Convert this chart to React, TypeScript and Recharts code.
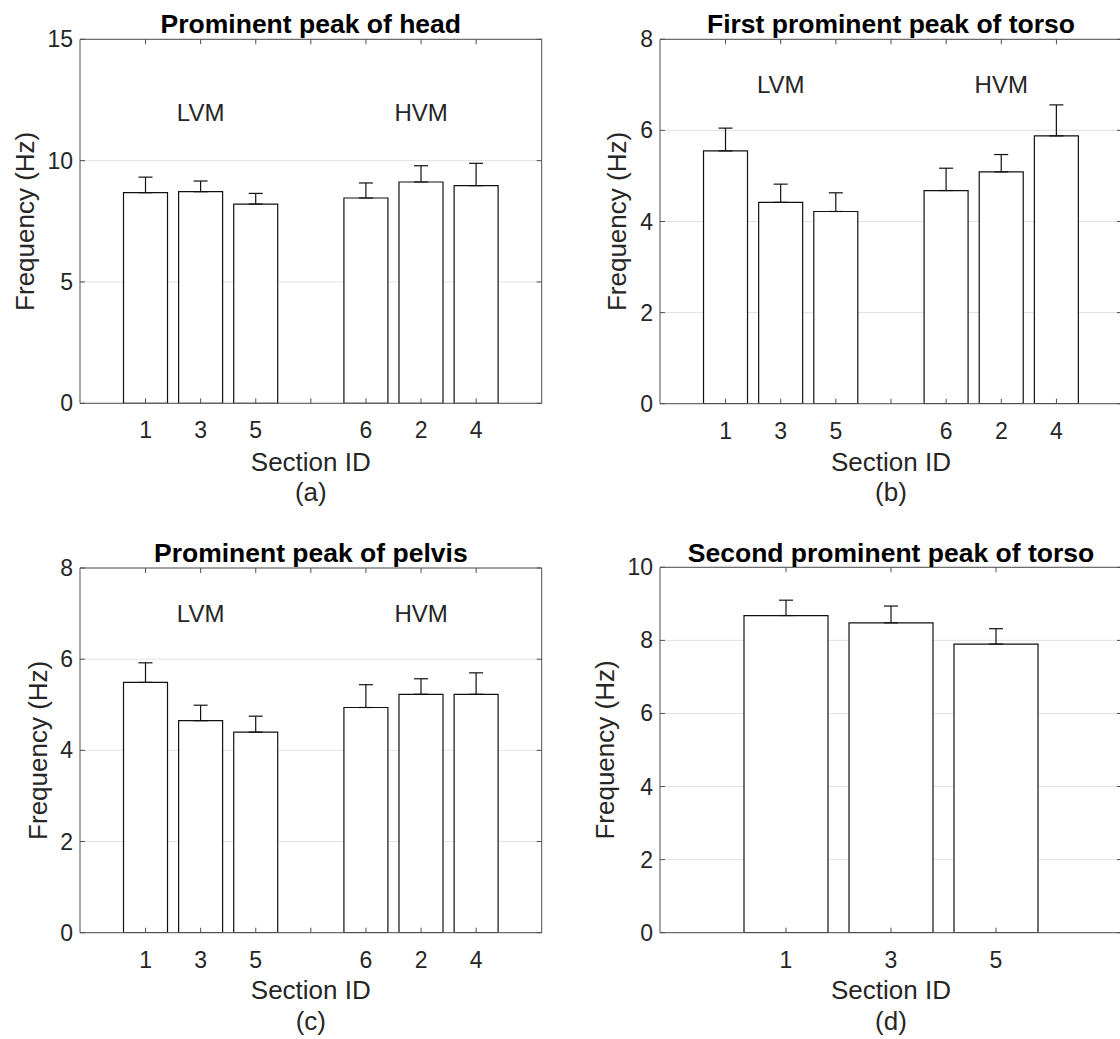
import React from "react";
import { BarChart, Bar, XAxis, YAxis, CartesianGrid, ErrorBar, ReferenceDot } from "recharts";

// ---- data ----
const groupedSections = ["1", "3", "5", "", "6", "2", "4"];
const lvmOnlySections = ["1", "3", "5"];

const headMean = [8.68, 8.72, 8.21, null, 8.46, 9.12, 8.97];
const headErr = [0.64, 0.44, 0.44, null, 0.62, 0.67, 0.92];

const torso1Mean = [5.55, 4.42, 4.22, null, 4.68, 5.09, 5.88];
const torso1Err = [0.5, 0.4, 0.41, null, 0.49, 0.38, 0.68];

const pelvisMean = [5.49, 4.65, 4.4, null, 4.94, 5.23, 5.23];
const pelvisErr = [0.43, 0.34, 0.35, null, 0.5, 0.34, 0.47];

const torso2Mean = [8.68, 8.48, 7.9];
const torso2Err = [0.42, 0.46, 0.42];

const headTicks = [0, 5, 10, 15];
const torso1Ticks = [0, 2, 4, 6, 8];
const pelvisTicks = [0, 2, 4, 6, 8];
const torso2Ticks = [0, 2, 4, 6, 8, 10];

const groupLabels = ["LVM", "HVM"];
const groupCenters = ["3", "2"];

const titles = [
  "Prominent peak of head",
  "First prominent peak of torso",
  "Prominent peak of pelvis",
  "Second prominent peak of torso",
];
const captions = ["(a)", "(b)", "(c)", "(d)"];
const xLabel = "Section ID";
const yLabel = "Frequency (Hz)";

// ---- style ----
const FONT = "'Liberation Sans', Arial, Helvetica, sans-serif";
const TEXT = "#262626";
const AXIS = "#505050";
const GRID = "#e2e2e2";
const TICK_LEN = 5;
const TICK_FS = 23;
const ANN_FS = 24;
const LABEL_FS = 26;
const TITLE_FS = 26.5;

type Row = { section: string; freq: number | null; err: number[] | null };

function build(sections: string[], mean: (number | null)[], err: (number | null)[]): Row[] {
  return sections.map((s, i) => ({
    section: s,
    freq: mean[i],
    err: err[i] == null ? null : [0, err[i] as number],
  }));
}

const BottomTick = (p: any) => (
  <g>
    <line x1={p.x} x2={p.x} y1={p.y} y2={p.y - TICK_LEN} stroke={AXIS} strokeWidth={1} />
    {p.payload.value !== "" && (
      <text x={p.x} y={p.y + 27} textAnchor="middle" dominantBaseline="central" fontSize={TICK_FS} fontFamily={FONT} fill={TEXT}>
        {p.payload.value}
      </text>
    )}
  </g>
);
const TopTick = (p: any) => (
  <line x1={p.x} x2={p.x} y1={p.y} y2={p.y + TICK_LEN} stroke={AXIS} strokeWidth={1} />
);
const LeftTick = (p: any) => (
  <g>
    <line x1={p.x} x2={p.x + TICK_LEN} y1={p.y} y2={p.y} stroke={AXIS} strokeWidth={1} />
    <text x={p.x - 7} y={p.y} textAnchor="end" dominantBaseline="central" fontSize={TICK_FS} fontFamily={FONT} fill={TEXT}>
      {p.payload.value}
    </text>
  </g>
);
const RightTick = (p: any) => (
  <line x1={p.x} x2={p.x - TICK_LEN} y1={p.y} y2={p.y} stroke={AXIS} strokeWidth={1} />
);

type PanelProps = {
  left: number;
  top: number;
  width: number;
  height: number;
  plot: { top: number; right: number; bottom: number; left: number };
  data: Row[];
  domain: [number, number];
  ticks: number[];
  pad: number;
  annY?: number;
};

function Panel({ left, top, width, height, plot, data, domain, ticks, pad, annY }: PanelProps) {
  // axes take 1px each; margins are reduced so the plot box stays where intended
  const margin = { top: plot.top - 1, right: plot.right - 1, bottom: plot.bottom - 1, left: plot.left - 1 };
  return (
    <div style={{ position: "absolute", left, top, width, height }}>
      <BarChart width={width} height={height} data={data} margin={margin} barCategoryGap="10%">
        <CartesianGrid xAxisId="bottom" yAxisId="left" horizontal vertical={false} stroke={GRID} />
        <XAxis
          xAxisId="bottom"
          dataKey="section"
          orientation="bottom"
          height={1}
          padding={{ left: pad, right: pad }}
          tickSize={0}
          tickMargin={0}
          tickLine={false}
          axisLine={{ stroke: AXIS }}
          interval={0}
          tick={BottomTick}
        />
        <XAxis
          xAxisId="top"
          dataKey="section"
          orientation="top"
          height={1}
          padding={{ left: pad, right: pad }}
          tickSize={0}
          tickMargin={0}
          tickLine={false}
          axisLine={{ stroke: AXIS }}
          interval={0}
          tick={TopTick}
        />
        <YAxis
          yAxisId="left"
          type="number"
          domain={domain}
          ticks={ticks}
          allowDataOverflow
          width={1}
          tickSize={0}
          tickMargin={0}
          tickLine={false}
          axisLine={{ stroke: AXIS }}
          interval={0}
          tick={LeftTick}
        />
        <YAxis
          yAxisId="right"
          orientation="right"
          type="number"
          domain={domain}
          ticks={ticks}
          allowDataOverflow
          width={1}
          tickSize={0}
          tickMargin={0}
          tickLine={false}
          axisLine={{ stroke: AXIS }}
          interval={0}
          tick={RightTick}
        />
        <Bar
          xAxisId="bottom"
          yAxisId="left"
          dataKey="freq"
          fill="#ffffff"
          stroke="#111111"
          strokeWidth={1.2}
          isAnimationActive={false}
        >
          <ErrorBar dataKey="err" direction="y" width={7} stroke="#111111" strokeWidth={1.2} />
        </Bar>
        {annY !== undefined &&
          groupLabels.map((g, i) => (
            <ReferenceDot
              key={g}
              xAxisId="bottom"
              yAxisId="left"
              x={groupCenters[i]}
              y={annY}
              r={1}
              fill="none"
              stroke="none"
              label={{ value: g, position: "center", fontSize: ANN_FS, fill: TEXT, fontFamily: FONT }}
            />
          ))}
      </BarChart>
    </div>
  );
}

export default function App() {
  const headData = build(groupedSections, headMean, headErr);
  const torso1Data = build(groupedSections, torso1Mean, torso1Err);
  const pelvisData = build(groupedSections, pelvisMean, pelvisErr);
  const torso2Data = build(lvmOnlySections, torso2Mean, torso2Err);

  const txt = (x: number, y: number, s: string, extra: any = {}) => (
    <text x={x} y={y} textAnchor="middle" dominantBaseline="central" fontFamily={FONT} fill={TEXT} fontSize={LABEL_FS} {...extra}>
      {s}
    </text>
  );
  const titleStyle = { fontWeight: "bold", fill: "#000", fontSize: TITLE_FS };

  const cx = [310.8, 891];

  return (
    <div style={{ position: "absolute", left: 0, top: 0, width: 1120, height: 1039, overflow: "hidden", background: "#fff" }}>
      <Panel left={0} top={0} width={560} height={520} plot={{ top: 39.3, right: 18.3, bottom: 116.7, left: 80 }} data={headData} domain={[0, 15]} ticks={headTicks} pad={38} annY={12} />
      <Panel left={560} top={0} width={564} height={520} plot={{ top: 39.3, right: 2, bottom: 116.3, left: 100 }} data={torso1Data} domain={[0, 8]} ticks={torso1Ticks} pad={38} annY={7} />
      <Panel left={0} top={520} width={560} height={520} plot={{ top: 48, right: 18.3, bottom: 107.3, left: 80 }} data={pelvisData} domain={[0, 8]} ticks={pelvisTicks} pad={38} annY={7} />
      <Panel left={560} top={520} width={564} height={520} plot={{ top: 47.3, right: 2, bottom: 107.3, left: 100 }} data={torso2Data} domain={[0, 10]} ticks={torso2Ticks} pad={73.5} />
      <svg width={1120} height={1039} style={{ position: "absolute", left: 0, top: 0, pointerEvents: "none" }}>
        {txt(cx[0], 23.5, titles[0], titleStyle)}
        {txt(cx[1], 23.5, titles[1], titleStyle)}
        {txt(cx[0], 553.3, titles[2], titleStyle)}
        {txt(cx[1], 553.3, titles[3], titleStyle)}
        {txt(cx[0], 461.7, xLabel)}
        {txt(cx[1], 462, xLabel)}
        {txt(cx[0], 990, xLabel)}
        {txt(cx[1], 990, xLabel)}
        {txt(cx[0], 491.7, captions[0])}
        {txt(cx[1], 492, captions[1])}
        {txt(cx[0], 1021, captions[2])}
        {txt(cx[1], 1021, captions[3])}
        {txt(0, 0, yLabel, { transform: `translate(25 221.3) rotate(-90)` })}
        {txt(0, 0, yLabel, { transform: `translate(617 221.5) rotate(-90)` })}
        {txt(0, 0, yLabel, { transform: `translate(38 750.3) rotate(-90)` })}
        {txt(0, 0, yLabel, { transform: `translate(605 750) rotate(-90)` })}
      </svg>
    </div>
  );
}
